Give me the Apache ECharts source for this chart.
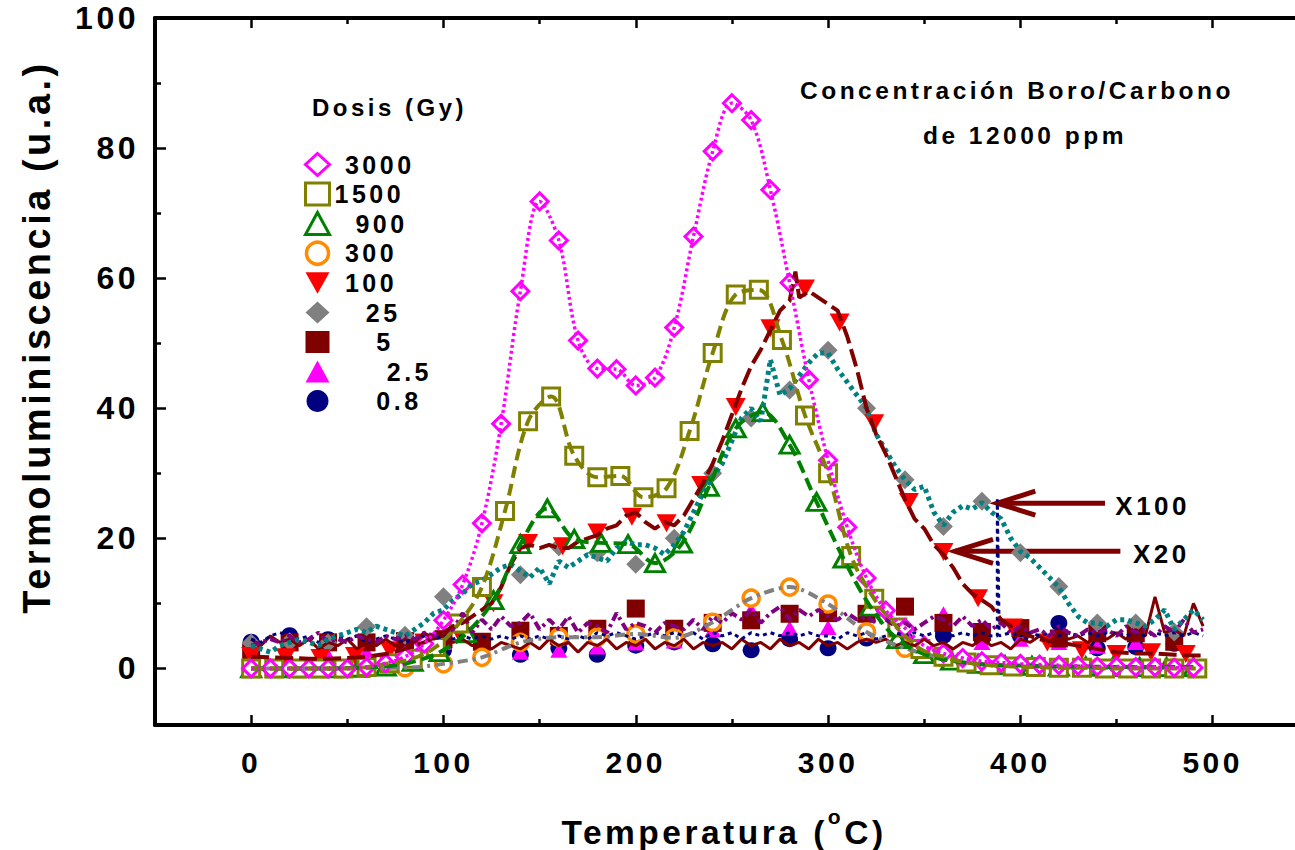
<!DOCTYPE html>
<html>
<head>
<meta charset="utf-8">
<script src="https://cdn.jsdelivr.net/npm/echarts@6/dist/echarts.min.js"></script>
<style>
  html, body { margin: 0; padding: 0; background: #fff; }
  #main { width: 1295px; height: 850px; }
  #main text { letter-spacing: 3.5px; white-space: pre; }
</style>
</head>
<body>
<div id="main"></div>
<script>
const FONT = '"Liberation Sans", Arial, sans-serif';
const SPACING = 3.5;

// tick positions
const xMajor = [0, 100, 200, 300, 400, 500];
const xMinor = [50, 150, 250, 350, 450];
const yMajor = [0, 20, 40, 60, 80, 100];
const yMinor = [10, 30, 50, 70, 90];

const doses = ['3000', '1500', '900', '300', '100', '25', '5', '2.5', '0.8'];

// 3000 Gy, every 10 C
const t3000 = [0,10,20,30,40,50,60,70,80,90,100,110,120,130,140,150,160,170,180,190,200,210,220,230,240,250,260,270,280,290,300,310,320,330,340,350,360,370,380,390,400,410,420,430,440,450,460,470,480,490];
const v3000 = [0,0,0,0,0,0,0.2,0.8,1.8,3.8,7.4,12.9,22.3,37.6,58.0,71.8,65.8,50.4,46.1,46.0,43.5,44.7,52.4,66.4,79.5,86.9,84.3,73.6,59.3,44.4,32.0,21.7,13.9,8.9,6.2,3.5,2.3,1.6,1.1,0.9,0.7,0.6,0.5,0.4,0.3,0.3,0.2,0.2,0.1,0.1];

// 1500 Gy, every 12 C
const t1500 = [0,12,24,36,48,60,72,84,96,108,120,132,144,156,168,180,192,204,216,228,240,252,264,276,288,300,312,324,336,348,360,372,384,396,408,420,432,444,456,468,480,492];
const v1500 = [0,0,0,0,0,0.2,0.8,1.5,3.3,6.9,12.5,24.2,38.0,41.8,32.7,29.4,29.6,26.3,27.7,36.5,48.5,57.5,58.2,50.5,38.9,30.0,17.3,10.7,6.3,3.0,1.8,0.9,0.5,0.3,0.2,0.1,0.1,0,0,0,0,0];

// 900 Gy, every 14 C
const t900 = [0,14,28,42,56,70,84,98,112,126,140,154,168,182,196,210,224,238,252,266,280,294,308,322,336,350,364,378,392,406,420,434,448,462,476,490];
const v900 = [0,0,0,0,0.1,0.3,1.0,2.5,5.4,10.5,19.1,24.6,19.9,19.3,19.1,16.2,19.2,27.9,36.9,39.4,34.4,25.6,16.9,9.5,4.5,2.2,1.2,0.7,0.5,0.4,0.3,0.3,0.2,0.2,0.2,0.2];

// 300 Gy, every 20 C
const t20 = [0,20,40,60,80,100,120,140,160,180,200,220,240,260,280,300,320,340,360,380,400,420,440,460,480];
const v300 = [0,0,0,0.1,0.1,0.7,1.7,4.0,4.8,4.8,5.3,4.7,7.1,10.8,12.5,9.9,5.6,3.1,1.6,0.6,0.3,0.2,0.1,0.1,0.1];

// 100 Gy markers, every 18 C
const t100 = [0,18,36,54,72,90,108,126,144,162,180,198,216,234,252,270,288,306,324,342,360,378,396,414,432,450,468,486];
const v100 = [1.9,1.7,1.6,1.9,2.8,4.0,5.5,10.0,19.3,18.8,20.9,23.3,22.3,28.2,40.2,52.3,58.4,53.2,37.7,25.6,17.9,10.8,6.3,4.0,2.8,2.2,2.5,2.2];

// 25, 5, 2.5, 0.8 Gy markers, every 20 C
const v25 = [3.9,4.1,3.9,6.4,5.1,11.0,12.5,14.4,18.7,17.8,16.0,20.0,30.0,38.5,42.8,48.9,40.0,29.0,21.8,25.7,17.8,12.6,7.0,7.0,5.6];
const v5 = [2.5,4.0,4.0,4.0,4.2,4.5,4.1,5.8,5.0,6.1,9.2,6.1,7.0,7.4,8.4,8.5,8.4,9.5,7.0,5.6,6.2,4.6,5.4,5.4,4.1];
const v2p5 = [1.5,1.5,2.0,2.5,3.0,4.0,3.5,2.5,2.8,3.3,3.9,4.2,5.9,9.0,6.2,6.3,5.5,5.5,8.4,4.0,4.5,4.0,3.4,4.0,4.4];
const v0p8 = [4.1,5.1,4.5,4.0,4.0,2.8,4.0,2.1,3.1,2.1,3.5,4.0,3.7,2.8,4.5,3.1,4.6,4.5,5.0,4.5,5.0,7.0,3.1,3.3,3.8];

// dense curves, every 5 C
const t5 = [0,5,10,15,20,25,30,35,40,45,50,55,60,65,70,75,80,85,90,95,100,105,110,115,120,125,130,135,140,145,150,155,160,165,170,175,180,185,190,195,200,205,210,215,220,225,230,235,240,245,250,255,260,265,270,275,280,285,290,295,300,305,310,315,320,325,330,335,340,345,350,355,360,365,370,375,380,385,390,395,400,405,410,415,420,425,430,435,440,445,450,455,460,465,470,475,480,485,490,495];

const c25 = [3.5,3.0,2.5,3.5,4.0,4.5,4.0,3.5,4.5,5.0,5.5,6.0,5.5,6.5,6.0,5.5,5.0,6.0,7.0,8.5,9.0,10.5,11.5,13.0,13.5,14.5,15.5,16.0,15.0,14.0,15.5,13.0,16.5,15.5,16.5,17.5,17.0,16.5,18.5,19.5,19.0,19.0,18.5,17.5,19.0,21.0,24.0,27.0,29.5,31.5,35.0,38.5,40.0,38.0,47.5,42.0,43.0,45.0,47.0,48.5,48.5,46.0,44.0,42.0,40.0,36.0,33.5,31.0,29.0,27.5,28.0,24.0,22.0,24.0,25.0,24.5,25.5,24.0,23.0,20.0,18.0,17.0,15.5,14.0,12.5,10.0,8.0,7.0,7.0,6.5,7.5,7.5,7.0,6.5,7.5,9.0,6.0,7.5,9.0,7.5];

const t100c = [0,10,20,30,40,50,60,70,80,90,100,105,110,115,120,125,130,135,140,145,150,155,160,165,170,175,180,185,190,195,200,205,210,215,220,225,230,235,240,245,250,255,260,265,270,275,280,283,285,290,295,300,305,310,315,320,325,330,335,340,345,350,355,360,365,370,375,380,385,390,395,400,410,420,430,440,450,460,470,480,490,495];
const c100 = [1.8,1.7,1.6,1.5,1.5,1.6,1.8,2.2,3.0,4.0,5.5,6.5,7.0,8.0,9.0,10.0,12.5,16.0,18.5,19.0,18.5,19.0,18.5,18.5,19.5,20.0,20.5,21.5,22.0,23.5,24.0,22.5,21.5,22.5,22.0,23.5,26.0,28.5,31.5,35.0,39.0,43.0,46.5,49.0,52.0,55.0,56.5,61.0,57.0,58.0,57.0,56.0,55.0,51.0,46.0,40.0,36.0,33.0,29.5,26.0,23.0,21.5,19.0,17.5,15.5,13.0,11.5,10.5,9.5,7.5,6.5,5.5,4.5,4.0,3.5,3.0,2.5,2.3,2.3,2.1,2.0,2.0];

const c5 = [3.5,4.0,4.5,4.0,5.0,4.0,4.5,5.5,4.0,4.5,4.0,5.0,4.5,4.0,5.0,4.5,5.0,4.5,5.5,5.0,5.5,6.0,8.5,5.5,7.5,6.0,8.0,6.5,7.0,8.5,6.0,7.5,6.0,8.0,5.5,7.0,6.5,5.5,8.5,6.0,7.0,6.5,5.5,7.0,6.5,6.0,7.5,6.0,8.0,7.0,8.5,7.5,9.0,7.0,8.5,9.5,7.5,9.0,8.0,9.0,8.0,7.5,8.5,7.5,8.0,7.0,7.5,6.5,7.0,6.0,7.0,8.0,7.5,6.5,8.0,6.5,7.5,6.0,7.0,5.5,6.5,5.5,6.0,5.0,6.5,5.5,5.0,6.0,5.5,6.0,5.0,6.5,5.5,6.0,5.0,6.5,5.5,7.5,5.5,6.0];

const c0p8 = [4.5,3.5,5.0,4.0,4.5,3.5,4.5,3.0,4.0,3.5,4.5,3.0,4.0,3.5,4.5,3.5,4.5,4.0,5.5,4.5,5.0,4.0,4.5,3.5,4.0,3.0,4.0,3.5,3.0,4.0,3.0,4.5,3.5,4.0,2.5,4.0,3.5,4.5,3.0,4.0,3.5,4.5,3.0,4.0,3.5,4.5,3.0,4.0,3.5,4.0,3.0,4.5,3.5,4.0,3.0,4.5,3.5,4.0,3.0,4.5,3.5,4.0,3.0,4.0,4.5,4.0,4.5,3.5,4.0,3.5,4.5,3.5,4.0,3.0,4.0,3.5,4.5,3.5,4.0,3.0,4.5,4.0,5.0,4.0,5.5,4.5,5.0,4.0,5.0,4.5,5.5,4.5,6.0,5.0,11.0,5.5,6.0,5.0,10.0,6.5];

const t2p5c = [0,5,10,15,20,25,30,35,40,45,50,55,60,65,70,75,80,85,90,95,100,105,110,115,120,125,130,135,140,145,150,155,160,165,170,175,180,185,190,195,200,205,210,215,220,225,230,235,240,245,250,255,260,265,270,275,280,285,290,295,300,305,310,315,320,325,330,335,340,345,350,355,360,365,370,375,380,385,388,388,389,395,400,405,410,415,420,425,430,435,440,445,450,455,460,465,470,475,480,485,490,495];
const c2p5 = [4.5,4.0,5.0,5.5,5.0,4.5,5.0,4.0,4.5,5.0,4.5,5.0,4.0,4.5,5.0,4.5,4.0,4.5,5.0,4.5,5.0,4.5,5.0,4.5,5.0,4.5,5.0,4.5,5.0,4.5,5.0,4.5,5.0,4.5,5.0,4.5,5.5,5.0,5.5,5.0,4.5,5.0,5.5,5.0,5.5,5.0,5.5,4.5,5.5,5.0,5.5,4.5,5.5,5.0,5.5,5.0,5.5,5.0,5.5,5.0,5.0,4.5,5.5,5.0,5.5,4.5,5.0,5.5,5.0,5.5,5.0,5.5,5.5,5.0,5.5,5.0,5.5,5.0,5.0,26.0,5.0,5.5,5.0,5.5,5.0,5.5,5.0,5.5,5.0,5.5,5.0,5.5,5.5,5.0,5.5,5.0,5.5,5.0,5.5,5.0,5.5,5.0];

const pairs = (ts, vs) => ts.map((t, i) => [t, vs[i]]);

const curve = (name, ts, vs, color, width, dash, smooth) => ({
    name: name, type: 'line', data: pairs(ts, vs), showSymbol: false, symbol: 'none',
    smooth: smooth, silent: true,
    lineStyle: { color: color, width: width, type: dash, cap: 'butt' }
});

const marks = (name, ts, vs, symbol, size, style, rotate) => ({
    name: name, type: 'scatter', data: pairs(ts, vs), symbol: symbol, symbolSize: size,
    symbolRotate: rotate || 0, itemStyle: Object.assign({ opacity: 1 }, style), silent: true
});

const series = [
    curve('c0.8', t5, c0p8, '#800000', 3, 'solid', false),
    curve('c2.5', t2p5c, c2p5, '#000080', 3, [4, 4], false),
    curve('c5', t5, c5, '#800080', 4, [9, 4, 3, 4], false),
    curve('c300', t20, v300, '#808080', 4, [10, 5, 3, 5], 0.3),
    curve('c25', t5, c25, '#008080', 5, [4, 4], false),
    curve('c100', t100c, c100, '#800000', 4, [18, 6], false),
    curve('c900', t900, v900, '#008000', 4, [13, 6], 0.35),
    curve('c1500', t1500, v1500, '#808000', 4, [12, 6], 0.35),
    curve('c3000', t3000, v3000, '#ff00ff', 3.5, [3, 3], 0.35),
    marks('0.8', t20, v0p8, 'circle', [17, 16], { color: '#000080' }),
    marks('2.5', t20, v2p5, 'triangle', [17, 15], { color: '#ff00ff' }),
    marks('5', t20, v5, 'rect', 18, { color: '#800000' }),
    marks('300', t20, v300, 'circle', 16, { color: '#fff', borderColor: '#ff8c00', borderWidth: 3.5 }),
    marks('25', t20, v25, 'diamond', 19, { color: '#808080' }),
    marks('100', t100, v100, 'triangle', [20, 18], { color: '#ff0000' }, 180),
    marks('900', t900, v900, 'triangle', [19, 17], { color: '#fff', borderColor: '#008000', borderWidth: 3 }),
    marks('1500', t1500, v1500, 'rect', 17, { color: '#fff', borderColor: '#808000', borderWidth: 3 }),
    marks('3000', t3000, v3000, 'diamond', 17, { color: '#fff', borderColor: '#ff00ff', borderWidth: 3 })
];

const legendPad = { '3000': 1, '1500': 0, '900': 2, '300': 1, '100': 1, '25': 3, '5': 4, '2.5': 5, '0.8': 4 };
const legendIcon = {
    '100': { icon: 'path://M0,0L20,0L10,18Z' },
    '3000': { itemStyle: { borderWidth: 3 } },
    '1500': { itemStyle: { borderWidth: 3 } },
    '900': { itemStyle: { borderWidth: 3 } },
    '300': { itemStyle: { borderWidth: 3.5 } }
};

const axisLineStyle = { color: '#000', width: 4 };
const tickStyle = { color: '#000', width: 2.5 };

const xBase = { type: 'value', min: -50, max: 542.8, splitLine: { show: false } };
const yBase = { type: 'value', min: -8.7, max: 100, splitLine: { show: false } };

const option = {
    animation: false,
    backgroundColor: '#fff',
    grid: { left: 155, right: 0, top: 18, bottom: 125, containLabel: false },
    xAxis: [
        Object.assign({}, xBase, {
            position: 'bottom',
            axisLine: { show: true, onZero: false, lineStyle: axisLineStyle },
            axisTick: { show: true, inside: true, length: 10, customValues: xMajor, lineStyle: tickStyle },
            axisLabel: { show: true, customValues: xMajor, margin: 22, color: '#000', fontSize: 30, fontWeight: 'bold', fontFamily: FONT }
        }),
        Object.assign({}, xBase, {
            position: 'bottom',
            axisLine: { show: false, onZero: false },
            axisTick: { show: true, inside: true, length: 6, customValues: xMinor, lineStyle: tickStyle },
            axisLabel: { show: false }
        }),
        Object.assign({}, xBase, {
            position: 'top',
            axisLine: { show: true, onZero: false, lineStyle: axisLineStyle },
            axisTick: { show: true, inside: true, length: 10, customValues: xMajor, lineStyle: tickStyle },
            axisLabel: { show: false }
        }),
        Object.assign({}, xBase, {
            position: 'top',
            axisLine: { show: false, onZero: false },
            axisTick: { show: true, inside: true, length: 6, customValues: xMinor, lineStyle: tickStyle },
            axisLabel: { show: false }
        })
    ],
    yAxis: [
        Object.assign({}, yBase, {
            position: 'left',
            axisLine: { show: true, onZero: false, lineStyle: axisLineStyle },
            axisTick: { show: true, inside: true, length: 11, customValues: yMajor, lineStyle: tickStyle },
            axisLabel: { show: true, customValues: yMajor, margin: 16, padding: [9, 0, 0, 0], color: '#000', fontSize: 32, fontWeight: 'bold', fontFamily: FONT }
        }),
        Object.assign({}, yBase, {
            position: 'left',
            axisLine: { show: false, onZero: false },
            axisTick: { show: true, inside: true, length: 6, customValues: yMinor, lineStyle: tickStyle },
            axisLabel: { show: false }
        })
    ],
    legend: {
        data: doses.map(d => Object.assign({ name: d }, legendIcon[d] || {})),
        orient: 'vertical',
        left: 299,
        top: 147,
        itemWidth: 24,
        itemHeight: 22,
        itemGap: 4.5,
        selectedMode: false,
        formatter: name => ' '.repeat(legendPad[name]) + name,
        textStyle: { color: '#000', fontSize: 25, fontWeight: 'bold', fontFamily: FONT }
    },
    series: series
};

const chart = echarts.init(document.getElementById('main'), null, { renderer: 'svg' });
chart.setOption(option);

const measureCtx = document.createElement('canvas').getContext('2d');
const textWidth = (text, size) => {
    measureCtx.font = 'bold ' + size + 'px ' + FONT;
    return measureCtx.measureText(text).width + SPACING * text.length;
};

const px = (t, v) => chart.convertToPixel({ xAxisIndex: 0, yAxisIndex: 0 }, [t, v]);
const arrow = (tip, tail) => {
    const a = px(tip[0], tip[1]);
    const b = px(tail[0], tip[1]);
    const style = { stroke: '#800000', lineWidth: 5, fill: null };
    return [
        { type: 'line', shape: { x1: a[0], y1: a[1], x2: b[0], y2: b[1] }, style: style, silent: true },
        { type: 'polyline', shape: { points: [[a[0] + 38, a[1] - 12], [a[0], a[1]], [a[0] + 38, a[1] + 12]] }, style: style, silent: true }
    ];
};
const label = (text, x, y, size, align, extra) => Object.assign({
    type: 'text', x: x, y: y, silent: true,
    style: { text: text, fill: '#000', font: 'bold ' + size + 'px ' + FONT, textAlign: align, textVerticalAlign: 'middle' }
}, extra || {});

const a100 = px(388, 25.4);
const a20 = px(366, 18.0);

// x axis title with superscript, laid out piece by piece
const xt1 = 'Temperatura (', xt2 = 'o', xt3 = 'C)';
const xs = 33.5, xsSup = 21;
const w1 = textWidth(xt1, xs), w2 = textWidth(xt2, xsSup), w3 = textWidth(xt3, xs);
const xStart = 724 - (w1 + w2 + w3) / 2;

chart.setOption({
    graphic: [].concat(
        arrow([388, 25.4], [444, 25.4]),
        arrow([366, 18.0], [452, 18.0]),
        [
            label('X100', a100[0] + 118, a100[1] + 3, 26, 'left'),
            label('X20', a20[0] + 178, a20[1] + 3, 26, 'left'),
            label('Concentración Boro/Carbono', 1017, 90, 24.5, 'center'),
            label('de 12000 ppm', 1025, 135, 24.5, 'center'),
            label('Dosis (Gy)', 312, 107, 24, 'left'),
            label('Termoluminiscencia (u.a.)', 37, 337, 38, 'center', { rotation: Math.PI / 2 }),
            label(xt1, xStart, 832, xs, 'left'),
            label(xt2, xStart + w1, 816, xsSup, 'left'),
            label(xt3, xStart + w1 + w2, 832, xs, 'left')
        ]
    )
});
</script>
</body>
</html>
